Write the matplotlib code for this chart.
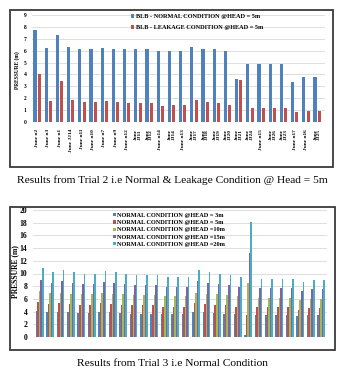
import matplotlib
matplotlib.use('Agg')
import matplotlib.pyplot as plt
import numpy as np
from matplotlib.patches import Rectangle

# ---------------- data ----------------
junctions_t2 = ['June n2', 'June n3', 'June n1', 'June JJ14', 'June n11', 'June n10', 'June n7',
                'June n9', 'June n12', 'June\nJJ11', 'June\nJJ12', 'June n14', 'June\nJJ14',
                'June n13', 'June\nJJ17', 'June\nJJ18', 'June\nJJ19', 'June\nJJ20', 'June\nJJ21',
                'June\nJJ24', 'June n15', 'June\nJJ26', 'June\nJJ23', 'June n17', 'June n16',
                'June\nJJ25']
normal_5m = [7.7, 6.25, 7.3, 6.3, 6.15, 6.15, 6.25, 6.15, 6.1, 6.1, 6.1, 6.0, 5.95, 6.0,
             6.3, 6.15, 6.1, 5.95, 3.65, 4.9, 4.9, 4.9, 4.9, 3.4, 3.8, 3.8]
leak_5m = [4.0, 1.8, 3.45, 1.85, 1.65, 1.65, 1.8, 1.65, 1.6, 1.6, 1.6, 1.35, 1.4, 1.45,
           1.85, 1.65, 1.6, 1.4, 3.5, 1.15, 1.15, 1.15, 1.15, 0.8, 0.9, 0.9]
t2_labels = ['BLB - NORMAL CONDITION @HEAD = 5m', 'BLB - LEAKAGE CONDITION @HEAD = 5m']

head_3m = [4.1, 3.9, 4.0, 3.9, 3.8, 3.8, 4.0, 3.9, 3.8, 3.7, 3.7, 3.7, 3.6, 3.6, 3.6, 4.0,
           3.9, 3.8, 3.7, 3.6, 0.3, 3.5, 3.5, 3.5, 3.5, 3.3, 3.4, 3.4]
head_5m = [5.5, 5.2, 5.3, 5.2, 5.0, 5.0, 5.3, 5.2, 5.0, 5.0, 5.0, 5.0, 4.8, 4.8, 4.8, 5.3,
           5.2, 5.0, 5.0, 4.8, 3.5, 4.7, 4.7, 4.7, 4.7, 4.3, 4.5, 4.5]
head_10m = [7.2, 6.9, 7.0, 6.8, 6.7, 6.7, 7.0, 6.8, 6.7, 6.6, 6.6, 6.6, 6.4, 6.4, 6.4, 7.0,
            6.8, 6.7, 6.6, 6.4, 8.5, 6.2, 6.2, 6.2, 6.2, 5.8, 6.0, 6.0]
head_15m = [9.0, 8.5, 8.8, 8.5, 8.3, 8.3, 8.7, 8.5, 8.3, 8.2, 8.2, 8.2, 7.9, 7.9, 7.9, 8.8,
            8.5, 8.3, 8.2, 7.9, 13.3, 7.7, 7.7, 7.7, 7.7, 7.2, 7.6, 7.5]
head_20m = [10.8, 10.2, 10.5, 10.2, 9.9, 9.9, 10.4, 10.2, 9.9, 9.8, 9.8, 9.8, 9.5, 9.5, 9.5,
            10.5, 10.2, 9.9, 9.8, 9.5, 18.1, 9.2, 9.2, 9.2, 9.2, 8.6, 9.0, 8.9]
t3_labels = ['NORMAL CONDITION @HEAD = 3m', 'NORMAL CONDITION @HEAD = 5m',
             'NORMAL CONDITION @HEAD =10m', 'NORMAL CONDITION @HEAD =15m',
             'NORMAL CONDITION @HEAD =20m']

cap1 = 'Results from Trial 2 i.e Normal & Leakage Condition @ Head = 5m'
cap2 = 'Results from Trial 3 i.e Normal Condition'

# ---------------- styling ----------------
C = ['#4F81BD', '#C0504D', '#9BBB59', '#8064A2', '#4BACC6']
SERIF = ['Liberation Serif', 'DejaVu Serif']
GRID = '#d9d9d9'

W, H = 363, 375
fig = plt.figure(figsize=(W / 100, H / 100), dpi=100)


def ax_px(x0, y0, x1, y1):
    return fig.add_axes([x0 / W, 1 - y1 / H, (x1 - x0) / W, (y1 - y0) / H])


def frame(x0, y0, x1, y1, lw=1.3, ec='#3a3a3a'):
    fig.patches.append(Rectangle((x0 / W, 1 - y1 / H), (x1 - x0) / W, (y1 - y0) / H,
                                 transform=fig.transFigure, fill=False, lw=lw, ec=ec))


# ---------------- top chart ----------------
frame(10, 10, 333, 167)
ax1 = ax_px(32, 15, 325, 122)
x = np.arange(len(normal_5m))
b1 = ax1.bar(x - 0.19, normal_5m, 0.28, color=C[0], zorder=3)
b2 = ax1.bar(x + 0.19, leak_5m, 0.28, color=C[1], zorder=3)
ax1.set_ylim(0, 9)
ax1.set_xlim(-0.46, 25.7)
ax1.set_yticks(range(0, 10))
ax1.yaxis.grid(True, color=GRID, lw=0.6, zorder=0)
ax1.set_axisbelow(True)
for s in ax1.spines.values():
    s.set_visible(False)
ax1.set_xticks(x)
ax1.set_xticklabels(junctions_t2, rotation=90, fontsize=3.9, fontweight='bold',
                    family=SERIF, linespacing=0.9)
ax1.tick_params(axis='x', length=0, pad=5)
ax1.tick_params(axis='y', length=0, pad=4, labelsize=4)
for t in ax1.get_yticklabels():
    t.set_fontweight('bold'); t.set_family(SERIF)
fig.text(17 / W, 1 - 70 / H, 'PRESSURE (m)', rotation=90, ha='center', va='center',
         fontsize=4, fontweight='bold', family=SERIF)
fig.legend([b1, b2], t2_labels, loc='upper left', bbox_to_anchor=(131 / W, 1 - 14 / H),
           frameon=False, prop={'family': SERIF, 'weight': 'bold', 'size': 4.5},
           handlelength=0.5, handleheight=0.5, handletextpad=0.3, labelspacing=1.0,
           borderpad=0, borderaxespad=0)
fig.text(172 / W, 1 - 180 / H, cap1, ha='center', va='center', fontsize=8.2, family=SERIF)

# ---------------- bottom chart ----------------
frame(10, 207, 335, 350)
ax2 = ax_px(33, 210, 327, 337)
x2 = np.arange(len(head_20m))
series = [head_3m, head_5m, head_10m, head_15m, head_20m]
handles = []
for k, vals in enumerate(series):
    h = ax2.bar(x2 + (k - 2) * 0.15, vals, 0.15, color=C[k], zorder=3, lw=0)
    handles.append(h)
ax2.set_ylim(0, 20)
ax2.set_xlim(-0.64, 27.57)
ax2.set_yticks(range(0, 21, 2))
ax2.set_xticks([])
ax2.yaxis.grid(True, color=GRID, lw=0.6, zorder=0)
ax2.set_axisbelow(True)
for s in ax2.spines.values():
    s.set_visible(False)
ax2.tick_params(axis='y', length=0, pad=4, labelsize=5.5)
for t in ax2.get_yticklabels():
    t.set_fontweight('bold'); t.set_family(SERIF)
fig.text(15 / W, 1 - 272 / H, 'PRESSURE (m)', rotation=90, ha='center', va='center',
         fontsize=5.5, fontweight='bold', family=SERIF)
fig.legend(handles, t3_labels, loc='upper left', bbox_to_anchor=(113 / W, 1 - 213 / H),
           frameon=False, prop={'family': SERIF, 'weight': 'bold', 'size': 4.5},
           handlelength=0.4, handleheight=0.4, handletextpad=0.2, labelspacing=0.35,
           borderpad=0, borderaxespad=0)
fig.text(172 / W, 1 - 363 / H, cap2, ha='center', va='center', fontsize=8.2, family=SERIF)

fig.savefig('out.png', dpi=100)
